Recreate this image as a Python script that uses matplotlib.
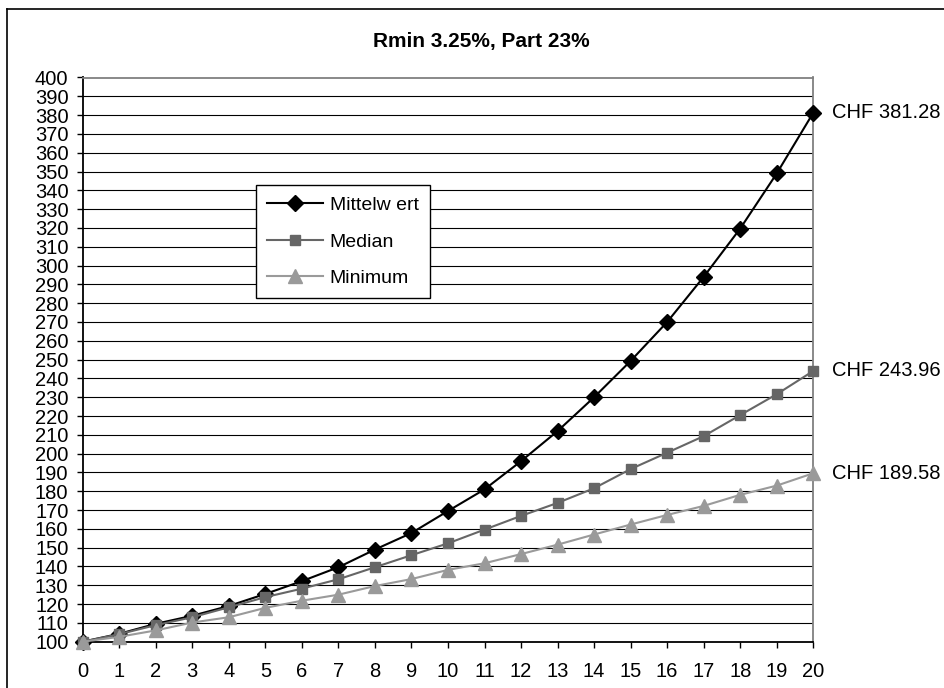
import matplotlib
matplotlib.use("Agg")
import matplotlib.pyplot as plt
from matplotlib.lines import Line2D

plt.rcParams['font.family'] = ['Liberation Sans', 'DejaVu Sans']

years = list(range(0, 21))
mittelwert = [100, 104.2, 109.5, 113.8, 119, 125.4, 132.2, 139.6, 149, 157.8,
              169.5, 181, 196, 212, 230, 249.3, 270, 294, 319.7, 349, 381.28]
median = [100, 104, 108.8, 113, 118.3, 123.7, 128.2, 133.2, 139.6, 146,
          152.3, 159.6, 166.9, 173.8, 181.6, 191.8, 200.5, 209.3, 220.5, 231.6, 243.96]
minimum = [100, 102.6, 106, 110.2, 113, 118, 121.8, 125, 129.6, 133.3,
           138.2, 141.7, 146.6, 151.6, 157, 162.3, 167.4, 172.2, 178.1, 183, 189.58]
labels = ["Mittelw ert", "Median", "Minimum"]
end_labels = ["CHF 381.28", "CHF 243.96", "CHF 189.58"]
title = "Rmin 3.25%, Part 23%"
yticks = list(range(100, 401, 10))

W, H = 944, 688
fig = plt.figure(figsize=(W/100, H/100), dpi=100)
L, R, T, B = 82.7, 813.3, 77.5, 641.7
ax = fig.add_axes([L/W, 1-B/H, (R-L)/W, (B-T)/H])

ax.set_xlim(0, 20)
ax.set_ylim(100, 400)
ax.set_yticks(yticks)
ax.set_xticks(years)
for y in yticks[1:-1]:
    ax.axhline(y, color='black', lw=0.8, zorder=1)

series = [
    (mittelwert, 'black', 'D', 8),
    (median, '#666666', 's', 7.5),
    (minimum, '#9a9a9a', '^', 9.5),
]
for (vals, col, mk, ms), lab, el in zip(series, labels, end_labels):
    ax.plot(years, vals, color=col, lw=1.5, marker=mk, markersize=ms,
            markerfacecolor=col, markeredgecolor=col, label=lab, zorder=3,
            clip_on=False)
    ax.annotate(el, xy=(years[-1], vals[-1]), xytext=(13.5, 0),
                textcoords='offset points', va='center', ha='left',
                fontsize=14.5, color='black', annotation_clip=False)

ax.spines['left'].set_color('black')
ax.spines['bottom'].set_color('black')
ax.spines['top'].set_color('#808080')
ax.spines['right'].set_color('#808080')
for s in ax.spines.values():
    s.set_linewidth(1.3)
ax.tick_params(axis='both', labelsize=14.5, length=4.3, width=1, color='black',
               direction='out')
ax.tick_params(axis='x', pad=10)
ax.tick_params(axis='y', pad=6)

fig.text(481/W, 1-42/H, title, fontsize=15, fontweight='bold',
         ha='center', va='center')

leg = ax.legend(loc='upper left', bbox_to_anchor=(255.7/W, 1-185/H),
                bbox_transform=fig.transFigure, fontsize=14,
                frameon=True, fancybox=False, edgecolor='black', framealpha=1,
                numpoints=1, handlelength=2.85, borderpad=0.6, labelspacing=0.96,
                handletextpad=0.35, borderaxespad=0)
leg.get_frame().set_linewidth(1.0)

# outer chart border (left and top edges visible in the reference)
fig.add_artist(Line2D([6.7/W, 6.7/W], [0, 1-9.3/H], transform=fig.transFigure,
                      color='black', lw=1.2))
fig.add_artist(Line2D([6.7/W, 1], [1-9.3/H, 1-9.3/H], transform=fig.transFigure,
                      color='black', lw=1.2))

fig.savefig("out.png", dpi=100)
